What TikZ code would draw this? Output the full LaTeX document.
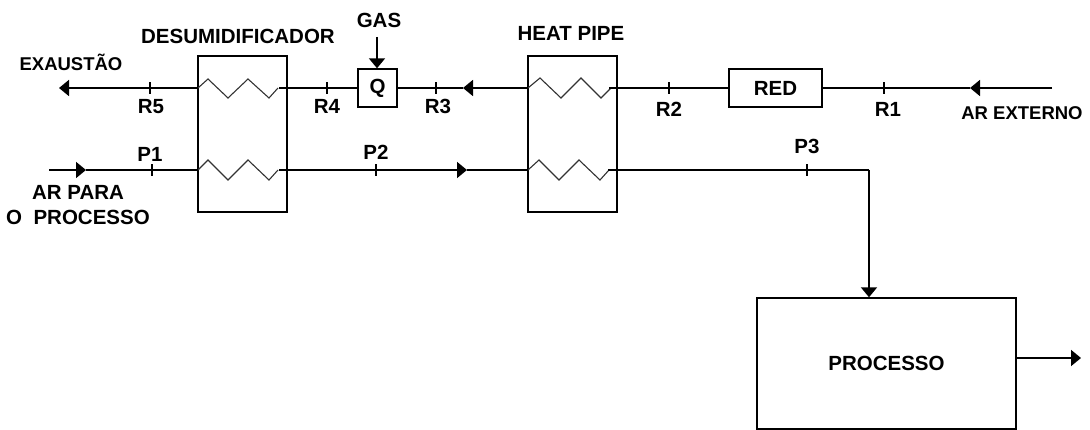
\documentclass[tikz,border=0pt]{standalone}
\usepackage{fontspec}
\setmainfont{Liberation Sans}
\usetikzlibrary{arrows.meta,positioning}

\begin{document}
\begin{tikzpicture}[
  x=1pt, y=-1pt,
  >={Triangle[length=10pt,width=16pt]},
  font=\fontsize{20.5}{25}\selectfont\bfseries,
  node distance=5pt,
  pipe/.style={line width=1.7pt},
  coil/.style={line width=1.1pt, draw=black!80},
  exch/.style={draw, line width=1.4pt, minimum width=89pt, minimum height=156pt, inner sep=0pt},
  unit/.style={draw, line width=1.4pt, minimum height=38pt, inner sep=0pt},
  lbl/.style={inner sep=0pt, align=center},
  lblsmall/.style={lbl, font=\fontsize{18.5}{25}\selectfont\bfseries},
  tickmark/.style={draw, line width=0.7pt, minimum width=0.8pt, minimum height=11pt, inner sep=0pt},
]
  \useasboundingbox (0,0) rectangle (1090,430);

  %% Equipment
  \node[exch] (desum) at (242.5,134) {};
  \node[exch] (hpipe) at (572.5,134) {};
  \node[unit, minimum width=39pt] (qbox) at (377.5,88) {Q};
  \node[unit, minimum width=93pt] (redbox) at (775.5,88) {RED};
  \node[draw, line width=1.4pt, minimum width=259pt, minimum height=131pt, inner sep=0pt] (proc) at (886.5,363.5) {PROCESSO};

  %% Free ends and bends
  \coordinate (extin) at (1052,88);
  \coordinate (exhout) at (59,88);
  \coordinate (arin) at (49,170);
  \coordinate (gasin) at (377,37);
  \coordinate (procout) at (1081,358);
  \coordinate (bend) at (869,170);

  %% Flow arrow tips
  \coordinate (flowa) at (970,88);
  \coordinate (flowb) at (463,88);
  \coordinate (flowc) at (86,170);
  \coordinate (flowd) at (467,170);

  %% Coil ends
  \coordinate (dta) at (198,88);
  \coordinate (dtb) at (287,88);
  \coordinate (dba) at (198,170);
  \coordinate (dbb) at (287,170);
  \coordinate (hta) at (528,88);
  \coordinate (htb) at (617,88);
  \coordinate (hba) at (528,170);
  \coordinate (hbb) at (617,170);

  %% Coils
  \draw[coil] (dta) -- ++(10,-9) -- ++(20,19) -- ++(20,-19) -- ++(21,19) -- ++(9,-10);
  \draw[coil] (dba) -- ++(10,-10) -- ++(20,20) -- ++(20,-20) -- ++(21,20) -- ++(9,-10);
  \draw[coil] (hta) -- ++(12,-10) -- ++(21,20) -- ++(20,-20) -- ++(20,20) -- ++(10,-10);
  \draw[coil] (hba) -- ++(11,-10) -- ++(20,20) -- ++(20,-20) -- ++(21,20) -- ++(9,-10);

  %% Top line
  \draw[pipe, ->] (extin) -- (flowa);
  \draw[pipe] (flowa) -- (redbox.east);
  \draw[pipe] (redbox.west) -- (htb);
  \draw[pipe] (htb) ++(-8,0) -- (htb);
  \draw[pipe, ->] (hta) -- (flowb);
  \draw[pipe] (flowb) -- (qbox.east);
  \draw[pipe] (qbox.west) -- (dtb);
  \draw[pipe] (dtb) ++(-8,0) -- (dtb);
  \draw[pipe, ->] (dta) -- (exhout);
  \draw[pipe, ->] (gasin) -- (qbox.north -| gasin);

  %% Bottom line
  \draw[pipe, ->] (arin) -- (flowc);
  \draw[pipe] (flowc) -- (dba);
  \draw[pipe] (dbb) ++(-8,0) -- (dbb);
  \draw[pipe, ->] (dbb) -- (flowd);
  \draw[pipe] (flowd) -- (hba);
  \draw[pipe] (hbb) ++(-9,0) -- (hbb);
  \draw[pipe] (hbb) -- (bend);
  \draw[pipe, ->] (bend) -- (proc.north -| bend);
  \draw[pipe, ->] (proc.east |- procout) -- (procout);

  %% Measuring points
  \node[tickmark] (r1) at (884,88) {};
  \node[tickmark] (r2) at (669,88) {};
  \node[tickmark] (r3) at (436,88) {};
  \node[tickmark] (r4) at (327,88) {};
  \node[tickmark] (r5) at (150,88) {};
  \node[tickmark] (p1) at (152,170) {};
  \node[tickmark] (p2) at (376,170) {};
  \node[tickmark] (p3) at (807,170) {};

  %% Labels
  \node[lbl, below=8pt of r1, xshift=4pt] (lr1) {R1};
  \node[lbl, below=8pt of r2] (lr2) {R2};
  \node[lbl, below=5pt of r3, xshift=2pt] (lr3) {R3};
  \node[lbl, below=5pt of r4] (lr4) {R4};
  \node[lbl, below=5pt of r5, xshift=1pt] (lr5) {R5};
  \node[lbl, above=2pt of p1, xshift=-2pt] (lp1) {P1};
  \node[lbl, above=4pt of p2] (lp2) {P2};
  \node[lbl, above=10pt of p3] (lp3) {P3};
  \node[lbl] (ldesum) at (238,36) {DESUMIDIFICADOR};
  \node[lbl] (lhpipe) at (571,33) {HEAT PIPE};
  \node[lbl] (lgas) at (379,20) {GAS};
  \node[lblsmall] (lexh) at (71,62) {EXAUSTÃO};
  \node[lblsmall] (lext) at (1022,113) {AR EXTERNO};
  \node[lbl] (lar) at (78,205) {AR PARA\\O~~PROCESSO};
\end{tikzpicture}
\end{document}
